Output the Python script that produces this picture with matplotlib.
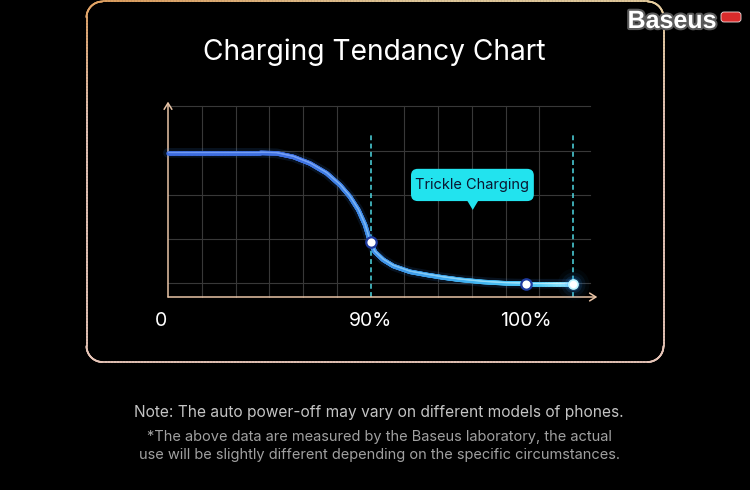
import numpy as np
import matplotlib
matplotlib.use("Agg")
import matplotlib.pyplot as plt
from matplotlib.collections import LineCollection
from matplotlib.patches import FancyBboxPatch, Polygon
from matplotlib.colors import LinearSegmentedColormap, to_rgb
import matplotlib.patheffects as pe

# ---- data -------------------------------------------------------------
# charging curve: battery progress (x, grid units) vs. charging current (y, arbitrary units)
progress = [0.0, 1.44, 2.73, 3.22, 3.71, 4.21, 4.70, 5.10, 5.39, 5.64, 5.84,
            5.99, 6.13, 6.38, 6.68, 7.17, 7.67, 8.16, 8.65, 9.33, 10.0, 10.6, 12.0]
current = [3.26, 3.26, 3.26, 3.25, 3.17, 3.02, 2.80, 2.53, 2.27, 1.97, 1.63,
           1.25, 1.02, 0.84, 0.70, 0.57, 0.50, 0.44, 0.39, 0.34, 0.31, 0.30, 0.30]

marker_x = [6.0, 10.6]
marker_y = [1.25, 0.30]
end_x = [12.0]
end_y = [0.30]

tick_pos = [0.0, 6.0, 10.6]
tick_labels = ["0", "90%", "100%"]

stage_x = [6, 12]                     # dashed stage boundaries
grid_x = [1, 2, 3, 4, 5, 7, 8, 9, 10, 11]
grid_y = [0.31, 1.31, 2.31, 3.31, 4.31]

title = "Charging Tendancy Chart"
callout = "Trickle Charging"
note = "Note: The auto power-off may vary on different models of phones."
footnote = ["*The above data are measured by the Baseus laboratory, the actual",
            "use will be slightly different depending on the specific circumstances."]

# ---- figure ----------------------------------------------------------
W, H = 750, 490
fig = plt.figure(figsize=(W / 100, H / 100), dpi=100, facecolor="black")

# background layer in pixel coordinates
bg = fig.add_axes([0, 0, 1, 1])
bg.set_xlim(0, W)
bg.set_ylim(H, 0)
bg.axis("off")
bg.set_facecolor("black")

# rounded frame with a warm gradient outline
def rounded_rect(x0, y0, x1, y1, r, n=24):
    pts = []
    corners = [((x0 + r, y0 + r), np.pi, np.pi / 2),
               ((x1 - r, y0 + r), np.pi / 2, 0),
               ((x1 - r, y1 - r), 0, -np.pi / 2),
               ((x0 + r, y1 - r), -np.pi / 2, -np.pi)]
    for (cx, cy), a0, a1 in corners:
        a = np.linspace(a0, a1, n)
        pts.append(np.column_stack([cx + r * np.cos(a), cy - r * np.sin(a)]))
    pts = np.vstack(pts + [pts[0][:1]])
    dense = []
    for p, q in zip(pts[:-1], pts[1:]):
        k = max(2, int(np.hypot(*(q - p)) / 3))
        dense.append(np.linspace(p, q, k, endpoint=False))
    dense.append(pts[-1:])
    return np.vstack(dense)

fr = rounded_rect(86.5, 1.5, 663.5, 362, 16)
segs = np.stack([fr[:-1], fr[1:]], axis=1)
c_top = np.array(to_rgb("#E4A463"))
c_top2 = np.array(to_rgb("#E8CFA0"))
c_bot = np.array(to_rgb("#E8C6B8"))
mid = (segs[:, 0, :] + segs[:, 1, :]) / 2
t = np.clip(mid[:, 1] / 120.0, 0, 1)[:, None]
u = np.clip((mid[:, 0] - 120) / 300.0, 0, 1)[:, None]
top_col = c_top * (1 - u) + c_top2 * u
cols = top_col * (1 - t) + c_bot * t
bg.add_collection(LineCollection(segs, colors=cols, linewidths=1.3, capstyle="round"))

bg.text(374, 60, title, ha="center", va="baseline", color="white",
        fontsize=20.3, family="Inter")

bg.text(379, 416.5, note, ha="center", va="baseline", color="#C4C4C4",
        fontsize=11.15, family="Inter")
bg.text(379, 441, footnote[0], ha="center", va="baseline", color="#A0A0A0",
        fontsize=10.5, family="Inter")
bg.text(379.5, 458.5, footnote[1], ha="center", va="baseline", color="#A0A0A0",
        fontsize=10.5, family="Inter")

# brand mark
bg.text(672, 28, "Baseus", ha="center", va="baseline", color="white",
        fontsize=18, fontweight="bold", family="Liberation Sans",
        path_effects=[pe.withStroke(linewidth=3, foreground="#5A5A5A")])
bg.add_patch(FancyBboxPatch((721, 12), 20, 10, boxstyle="round,pad=0,rounding_size=3",
                            fc="#D92B2B", ec="#F0E0E0", lw=0.6))

# ---- chart axes (data coordinates) -----------------------------------
X0, SX = 168.0, 33.75      # pixel of x=0 and pixels per unit
Y0, SY = 297.0, 44.2       # pixel of y=0 and pixels per unit
xl, yl = (-1.0, 13.5), (-1.0, 4.7)
left = (X0 + SX * xl[0]) / W
right = (X0 + SX * xl[1]) / W
top = (Y0 - SY * yl[1])
bottom = (Y0 - SY * yl[0])
ax = fig.add_axes([left, 1 - bottom / H, right - left, (bottom - top) / H])
ax.set_xlim(*xl)
ax.set_ylim(*yl)
ax.axis("off")
ax.patch.set_alpha(0)

grid_col = "#383838"
for gx in grid_x:
    ax.plot([gx, gx], [0, grid_y[-1]], color=grid_col, lw=0.8, zorder=1)
for gy in grid_y:
    ax.plot([0, 12.5], [gy, gy], color=grid_col, lw=0.8, zorder=1)

for sx in stage_x:
    ax.plot([sx, sx], [0, 3.7], color="#4FD9E4", lw=1.1,
            linestyle=(0, (3.2, 2.2)), zorder=2)

axis_col = "#E9C4A6"
ax.annotate("", xy=(12.72, 0), xytext=(0, 0),
            arrowprops=dict(arrowstyle="->,head_length=0.45,head_width=0.28",
                            color=axis_col, lw=1.1, shrinkA=0, shrinkB=0), zorder=3)
ax.annotate("", xy=(0, 4.42), xytext=(0, 0),
            arrowprops=dict(arrowstyle="->,head_length=0.45,head_width=0.28",
                            color=axis_col, lw=1.1, shrinkA=0, shrinkB=0), zorder=3)

# gradient curve: each straight piece split so colour changes smoothly
px = np.asarray(progress)
py = np.asarray(current)
sx_list, sy_list = [], []
for i in range(len(px) - 1):
    f = np.linspace(0, 1, 30, endpoint=False)
    sx_list.append(px[i] + (px[i + 1] - px[i]) * f)
    sy_list.append(py[i] + (py[i + 1] - py[i]) * f)
sx_arr = np.concatenate(sx_list + [px[-1:]])
sy_arr = np.concatenate(sy_list + [py[-1:]])
pts = np.column_stack([sx_arr, sy_arr])
csegs = np.stack([pts[:-1], pts[1:]], axis=1)
cmap = LinearSegmentedColormap.from_list(
    "charge", [(0.0, "#3D6CE0"), (0.33, "#3F72E2"), (0.55, "#3F95E8"),
               (0.75, "#40B2F0"), (0.92, "#52CAF6"), (1.0, "#9FEFFF")])
hmap = LinearSegmentedColormap.from_list(
    "charge_hi", [(0.0, "#6E98F2"), (0.33, "#76A0F4"), (0.55, "#7CC0F4"),
                  (0.75, "#8ED8F8"), (0.92, "#A8E8FC"), (1.0, "#DDFBFF")])
cval = (csegs[:, 0, 0] + csegs[:, 1, 0]) / 2 / 12.0

ax.plot(px, py, color="#3A8AE8", lw=7, alpha=0.13, solid_capstyle="round",
        solid_joinstyle="round", zorder=4)
line = LineCollection(csegs, colors=cmap(cval), linewidths=3.3,
                      capstyle="round", joinstyle="round", zorder=5)
ax.add_collection(line)
hl = LineCollection(csegs + np.array([0, 0.016]), colors=hmap(cval),
                    linewidths=0.9, capstyle="round", zorder=6)
ax.add_collection(hl)

ax.plot(marker_x, marker_y, "o", ms=7.5, mfc="white", mec="#1E3A9E", mew=1.6, zorder=7)

# glowing end of the curve
for s, a in [(520, 0.04), (300, 0.07), (160, 0.12), (90, 0.22)]:
    ax.scatter(end_x, end_y, s=s, color="#2F9BFF", alpha=a, lw=0, zorder=6)
ax.scatter(end_x, end_y, s=60, color="#BFF6FF", lw=0, zorder=8)
ax.scatter(end_x, end_y, s=28, color="white", lw=0, zorder=9)

# x labels
for pos, lab in zip(tick_pos, tick_labels):
    off = -0.2 if pos == 0 else 0.0
    ax.text(pos + off, -0.66, lab, ha="center", va="baseline", color="white",
            fontsize=14, family="Inter")

# "Trickle Charging" callout
box_c = "#22E3EE"
aspect = SX / SY
ax.add_patch(FancyBboxPatch((7.2, 2.17), 3.64, 0.73,
                            boxstyle="round,pad=0,rounding_size=0.2",
                            mutation_aspect=aspect, fc=box_c, ec="none", zorder=8))
ax.add_patch(Polygon([[8.85, 2.2], [9.21, 2.2], [9.03, 1.97]], closed=True,
                     fc=box_c, ec="none", zorder=8))
ax.text(9.02, 2.535, callout, ha="center", va="center", color="#0B1630",
        fontsize=10.5, family="Inter", zorder=9)

fig.savefig("out.png", dpi=100, facecolor="black")
